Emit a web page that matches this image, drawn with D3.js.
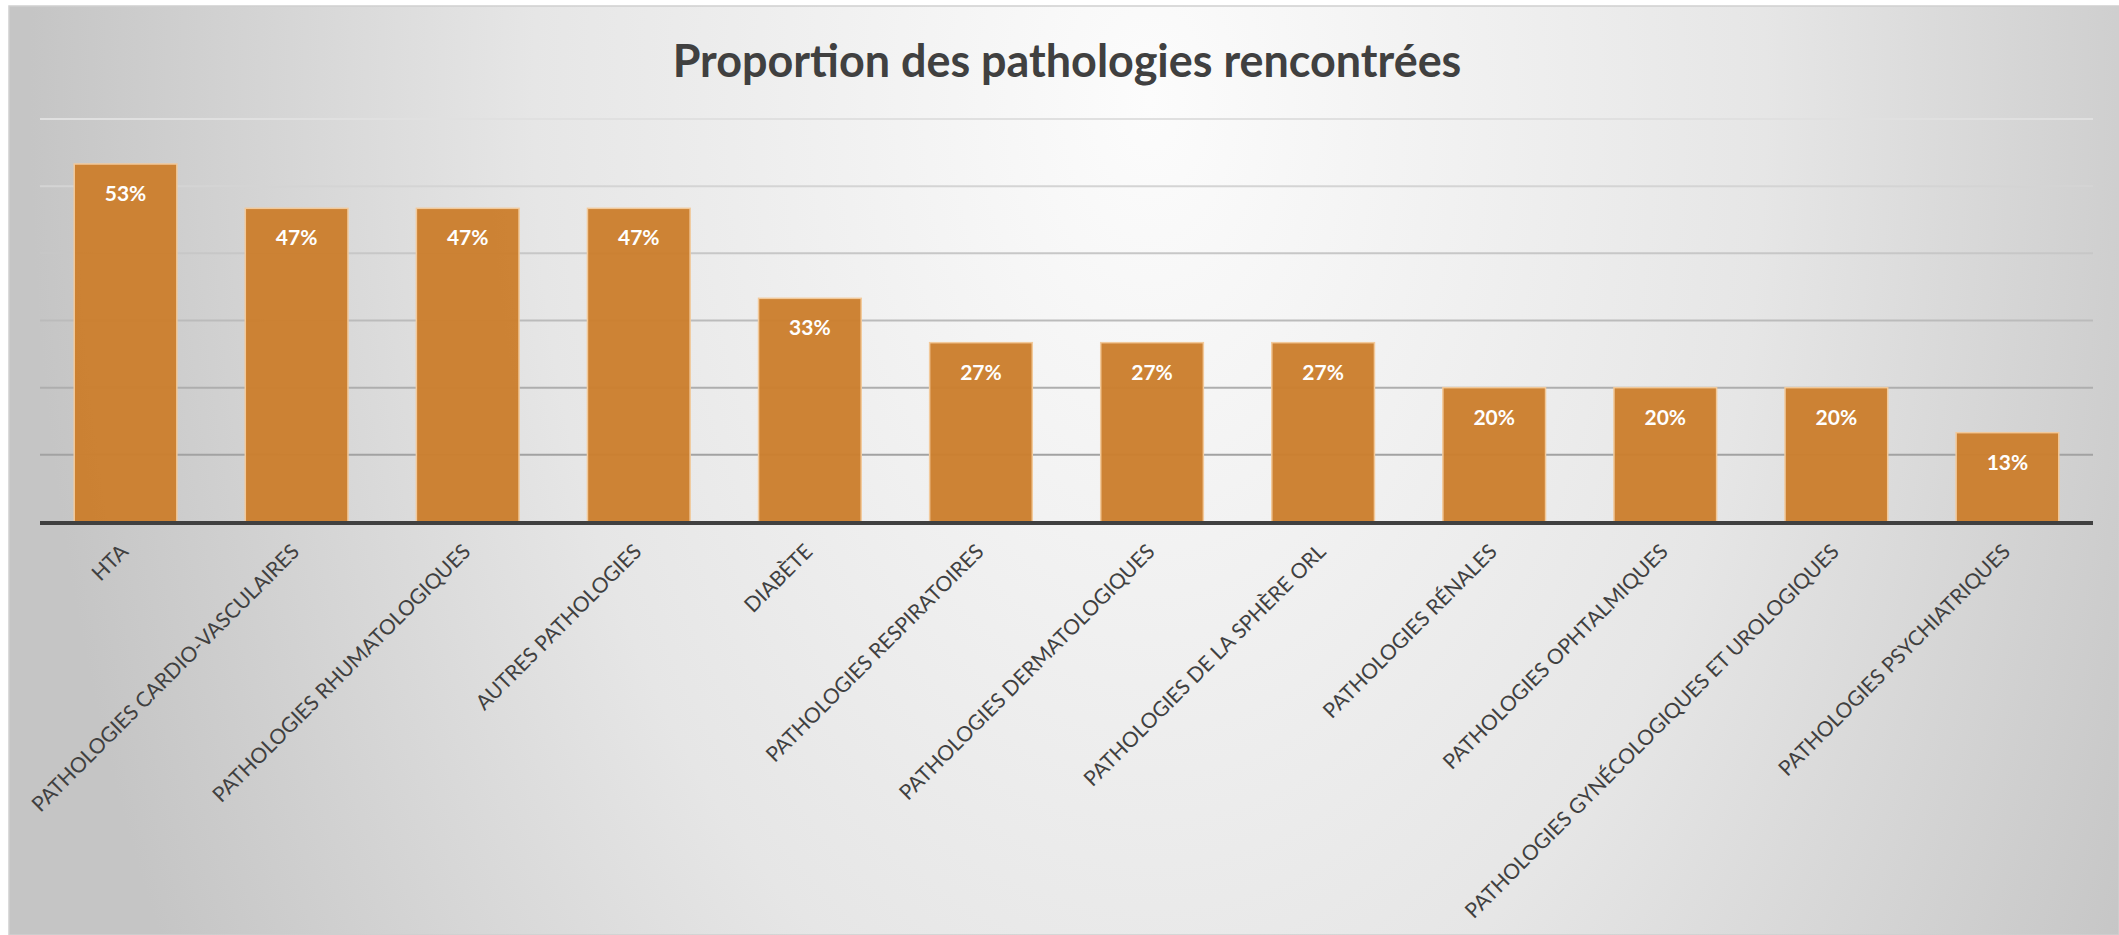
<!DOCTYPE html>
<html>
<head>
<meta charset="utf-8">
<script src="https://cdn.jsdelivr.net/npm/d3@7"></script>
<style>
  html, body { margin: 0; padding: 0; background: #fff; }
  svg { display: block; }
</style>
</head>
<body>
<svg id="chart" width="2119" height="935"></svg>
<script>
const categories = [
  'HTA',
  'PATHOLOGIES CARDIO-VASCULAIRES',
  'PATHOLOGIES RHUMATOLOGIQUES',
  'AUTRES PATHOLOGIES',
  'DIABÈTE',
  'PATHOLOGIES RESPIRATOIRES',
  'PATHOLOGIES DERMATOLOGIQUES',
  'PATHOLOGIES DE LA SPHÈRE ORL',
  'PATHOLOGIES RÉNALES',
  'PATHOLOGIES OPHTALMIQUES',
  'PATHOLOGIES GYNÉCOLOGIQUES ET UROLOGIQUES',
  'PATHOLOGIES PSYCHIATRIQUES'
]
const values = [53.3, 46.7, 46.7, 46.7, 33.3, 26.7, 26.7, 26.7, 20, 20, 20, 13.3]
const yTicks = [10, 20, 30, 40, 50, 60]
const title = 'Proportion des pathologies rencontrées'

const W = 2119, H = 935
const svg = d3.select('#chart')
const defs = svg.append('defs')

// background: soft radial light, grey towards the edges
const bg = defs.append('radialGradient')
    .attr('id', 'bg')
    .attr('gradientUnits', 'userSpaceOnUse')
    .attr('cx', 1150).attr('cy', 100).attr('r', 1120)
    .attr('gradientTransform', 'translate(1150,100) scale(1,1.6) translate(-1150,-100)')
bg.append('stop').attr('offset', 0).attr('stop-color', '#fcfcfc')
bg.append('stop').attr('offset', 0.55).attr('stop-color', '#e6e6e6')
bg.append('stop').attr('offset', 1).attr('stop-color', '#c5c5c5')

svg.append('rect')
    .attr('x', 9).attr('y', 6)
    .attr('width', W - 9).attr('height', H - 6)
    .attr('fill', 'url(#bg)')
    .attr('stroke', '#cfcfcf')
    .attr('stroke-width', 1.5)

const x = d3.scaleBand()
    .domain(categories)
    .range([40, 2093])
    .paddingInner(0.4)
    .paddingOuter(0.2)

const y = d3.scaleLinear()
    .domain([0, 60])
    .range([522, 119])

// gridlines get darker towards the axis
const gridColor = d3.scaleLinear().domain([10, 60]).range(['#a2a2a2', '#e0e0e0'])

svg.append('g')
    .attr('class', 'grid')
  .selectAll('line')
    .data(yTicks)
  .enter().append('line')
    .attr('x1', 40).attr('x2', 2093)
    .attr('y1', d => y(d)).attr('y2', d => y(d))
    .attr('stroke', d => gridColor(d))
    .attr('stroke-width', 2)

svg.append('g')
  .selectAll('rect')
    .data(values)
  .enter().append('rect')
    .attr('x', (d, i) => x(categories[i]))
    .attr('y', d => y(d))
    .attr('width', x.bandwidth())
    .attr('height', d => y(0) - y(d))
    .attr('fill', '#cb7f2e')
    .attr('fill-opacity', 0.97)
    .attr('stroke', '#f2c99a')
    .attr('stroke-width', 1.5)

// x axis line
svg.append('line')
    .attr('x1', 40).attr('x2', 2093)
    .attr('y1', y(0) + 1).attr('y2', y(0) + 1)
    .attr('stroke', '#404040')
    .attr('stroke-width', 4)

// value labels inside the bars
svg.append('g')
  .selectAll('text')
    .data(values)
  .enter().append('text')
    .attr('x', (d, i) => x(categories[i]) + x.bandwidth() / 2)
    .attr('y', d => y(d) + 37)
    .attr('text-anchor', 'middle')
    .attr('font-family', 'Lato, "Open Sans", sans-serif')
    .attr('font-weight', 'bold')
    .attr('font-size', 21)
    .attr('fill', '#ffffff')
    .text(d => Math.round(d) + '%')

// category labels, rotated
const catG = svg.append('g')
const cats = catG.selectAll('text')
    .data(categories)
  .enter().append('text')
    .attr('text-anchor', 'end')
    .attr('font-family', 'Lato, "Open Sans", sans-serif')
    .attr('font-size', 20)
    .attr('fill', '#404040')
    .attr('transform', d => `translate(${x(d) + x.bandwidth() / 2 + 4},${553}) rotate(-45)`)
    .text(d => d)

// size the category font so the long labels match the picture
const ref = cats.filter(d => d === 'PATHOLOGIES CARDIO-VASCULAIRES').node()
const catSize = 20 * 368 / ref.getComputedTextLength()
cats.attr('font-size', catSize)

const t = svg.append('text')
    .attr('x', 1067)
    .attr('y', 77)
    .attr('text-anchor', 'middle')
    .attr('font-family', 'Lato, "Open Sans", sans-serif')
    .attr('font-weight', 'bold')
    .attr('font-size', 40)
    .attr('fill', '#404040')
    .text(title)
t.attr('font-size', 40 * 789 / t.node().getComputedTextLength())
</script>
</body>
</html>
